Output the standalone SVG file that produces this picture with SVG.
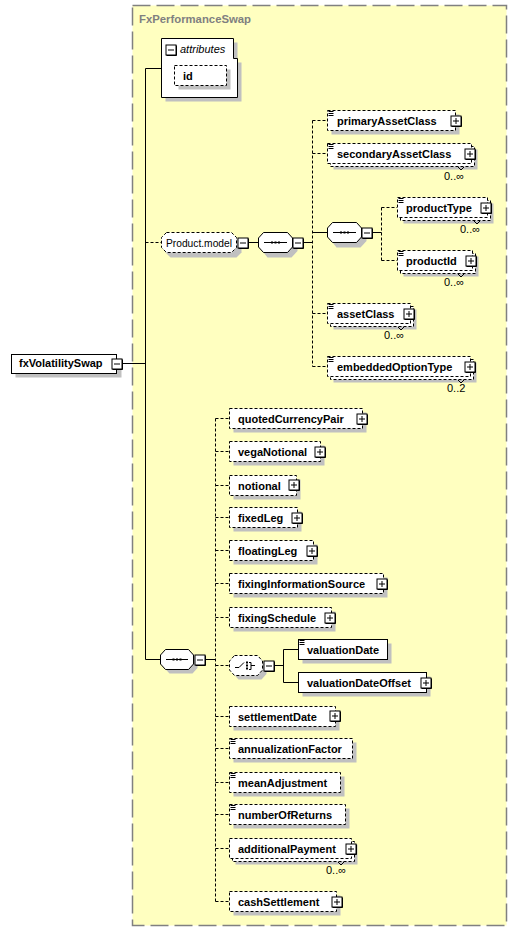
<svg xmlns="http://www.w3.org/2000/svg" width="517" height="932" viewBox="0 0 517 932">
<style>
.t{font-family:"Liberation Sans",Arial,sans-serif;font-size:11px;font-weight:bold;fill:#000}
.n{font-family:"Liberation Sans",Arial,sans-serif;font-size:11px;fill:#000}
.i{font-family:"Liberation Sans",Arial,sans-serif;font-size:11px;font-style:italic;fill:#000}
.ttl{font-family:"Liberation Sans",Arial,sans-serif;font-size:11px;font-weight:bold;fill:#808080}
.opt{fill:#fff;stroke:#000;stroke-width:1;stroke-dasharray:3,2}
.req{fill:#fff;stroke:#000;stroke-width:1}
.sh{fill:#c0c0c0}
.ln{stroke:#000;stroke-width:1;fill:none}
.dl{stroke:#000;stroke-width:1;fill:none;stroke-dasharray:3,2}
.bx{fill:#fff;stroke:#000;stroke-width:1}
</style>
<defs>
<g id="plus"><rect x="-5" y="-5" width="10" height="10" class="bx"/><path d="M-3,0H3M0,-3V3" class="ln"/><path d="M-4.5,5.5H5.5V-4.5" class="ln"/></g>
<g id="minus"><rect x="-5" y="-5" width="10" height="10" class="bx"/><path d="M-3,0H3" class="ln"/><path d="M-4.5,5.5H5.5V-4.5" class="ln"/></g>
<g id="ico"><path d="M1.5,1.5H6.5M1.5,3.5H6.5M1.5,5.5H6.5" class="ln"/></g>
</defs>
<rect x="132.5" y="5.5" width="374" height="920" fill="#ffffc0" stroke="#808080" stroke-width="1.5" stroke-dasharray="18,6"/>
<text x="139" y="23" class="ttl" textLength="112" lengthAdjust="spacingAndGlyphs">FxPerformanceSwap</text>

<g id="connectors">
<path d="M122,363.5H145.5M145.5,68.5V659.5M145.5,68.5H161M145.5,659.5H161" class="ln"/>
<path d="M145.5,242.5H161" class="dl"/>
<path d="M248,242.5H258M302.5,242.5H312.5M312.5,232.5H327M372,232.5H381.5" class="ln"/>
<path d="M312.5,120.5V366.5M312.5,120.5H327M312.5,153.5H327M312.5,313.5H327M312.5,366.5H327" class="dl"/>
<path d="M381.5,207.5V260.5M381.5,207.5H397M381.5,260.5H397" class="dl"/>
<path d="M205,659.5H215.5" class="ln"/>
<path d="M215.5,418.5V901.5M215.5,418.5H229M215.5,451.5H229M215.5,485.5H229M215.5,517.5H229M215.5,550.5H229M215.5,583.5H229M215.5,617.5H229M215.5,665.5H229M215.5,716.5H229M215.5,748.5H229M215.5,782.5H229M215.5,814.5H229M215.5,848.5H229M215.5,901.5H229" class="dl"/>
<path d="M274,665.5H283.5M283.5,649.5V682.5M283.5,649.5H298M283.5,682.5H298" class="ln"/>
</g>

<g id="fxVolatilitySwap">
<rect x="15.5" y="358.5" width="106" height="19" class="sh"/>
<rect x="11.5" y="354.5" width="105" height="19" class="req"/>
<text x="19" y="367" class="t">fxVolatilitySwap</text>
<use href="#minus" x="117" y="364"/>
</g>

<g id="attributes">
<path d="M165.5,42.5H237.5V62.5H241.5V101.5H165.5Z" class="sh"/>
<path d="M161.5,38.5H233.5V58.5H237.5V97.5H161.5Z" class="req"/>
<use href="#minus" x="171" y="50"/>
<text x="180" y="53" class="i">attributes</text>
<rect x="178.5" y="69.5" width="52" height="20" class="sh"/>
<rect x="174.5" y="65.5" width="52" height="20" class="opt"/>
<text x="183" y="80" class="t">id</text>
</g>

<g id="Product.model">
<path d="M170.5,237.5H236.5L241.5,242.5V252.5L236.5,257.5H170.5L165.5,252.5V242.5Z" class="sh"/>
<path d="M166.5,232.5H231.5L236.5,237.5V247.5L231.5,252.5H166.5L161.5,247.5V237.5Z" class="opt"/>
<text x="166" y="246.5" class="n" textLength="66" lengthAdjust="spacingAndGlyphs">Product.model</text>
<use href="#minus" x="243" y="243"/>
</g>

<g id="seq1">
<path d="M267.5,237.5H291.5L297.5,243V251L291.5,257.5H267.5L262.5,251V243Z" class="sh"/>
<path d="M263.5,232.5H287.5L292.5,238V247L287.5,252.5H263.5L258.5,247V238Z" class="req"/>
<path d="M264,242.5H287" class="ln"/><path d="M271,241.5h2v2h-2zM274.5,241.5h2v2h-2zM278,241.5h2v2h-2z" fill="#000"/>
<use href="#minus" x="298" y="243"/>
</g>

<g id="primaryAssetClass">
<rect x="331.5" y="114.5" width="128" height="20" class="sh"/>
<rect x="327.5" y="110.5" width="128" height="20" class="opt"/>
<use href="#ico" x="327" y="110"/>
<text x="337" y="125" class="t">primaryAssetClass</text>
<use href="#plus" x="456" y="121"/>
</g>

<g id="secondaryAssetClass">
<rect x="333.5" y="149.5" width="144" height="20" class="sh"/>
<rect x="330.5" y="146.5" width="144" height="20" class="opt"/>
<rect x="327.5" y="143.5" width="144" height="20" class="opt"/>
<use href="#ico" x="327" y="143"/>
<text x="337" y="158" class="t">secondaryAssetClass</text>
<use href="#plus" x="470" y="154"/>
<path d="M458,167L461,170L464,167" class="ln"/>
<text x="444" y="180" class="n">0..∞</text>
</g>

<g id="seq2">
<path d="M336.5,227.5H360.5L366.5,233V241L360.5,247.5H336.5L331.5,241V233Z" class="sh"/>
<path d="M332.5,222.5H356.5L361.5,228V237L356.5,242.5H332.5L327.5,237V228Z" class="req"/>
<path d="M333,232.5H356" class="ln"/><path d="M340,231.5h2v2h-2zM343.5,231.5h2v2h-2zM347,231.5h2v2h-2z" fill="#000"/>
<use href="#minus" x="367" y="233"/>
</g>

<g id="productType">
<rect x="403.5" y="203.5" width="90" height="20" class="sh"/>
<rect x="400.5" y="200.5" width="90" height="20" class="opt"/>
<rect x="397.5" y="197.5" width="90" height="20" class="opt"/>
<use href="#ico" x="397" y="197"/>
<text x="406" y="212" class="t">productType</text>
<use href="#plus" x="486" y="208"/>
<path d="M474,221L477,224L480,221" class="ln"/>
<text x="460" y="233" class="n">0..∞</text>
</g>

<g id="productId">
<rect x="403.5" y="256.5" width="75" height="20" class="sh"/>
<rect x="400.5" y="253.5" width="75" height="20" class="opt"/>
<rect x="397.5" y="250.5" width="75" height="20" class="opt"/>
<use href="#ico" x="397" y="250"/>
<text x="406" y="265" class="t">productId</text>
<use href="#plus" x="471" y="261"/>
<path d="M458,274L461,277L464,274" class="ln"/>
<text x="444" y="286" class="n">0..∞</text>
</g>

<g id="assetClass">
<rect x="333.5" y="309.5" width="83" height="20" class="sh"/>
<rect x="330.5" y="306.5" width="83" height="20" class="opt"/>
<rect x="327.5" y="303.5" width="83" height="20" class="opt"/>
<use href="#ico" x="327" y="303"/>
<text x="337" y="318" class="t">assetClass</text>
<use href="#plus" x="409" y="314"/>
<path d="M398,327L401,330L404,327" class="ln"/>
<text x="384" y="339" class="n">0..∞</text>
</g>

<g id="embeddedOptionType">
<rect x="333.5" y="362.5" width="143" height="20" class="sh"/>
<rect x="330.5" y="359.5" width="143" height="20" class="opt"/>
<rect x="327.5" y="356.5" width="143" height="20" class="opt"/>
<use href="#ico" x="327" y="356"/>
<text x="337" y="371" class="t">embeddedOptionType</text>
<use href="#plus" x="470" y="367"/>
<path d="M458,380L461,383L464,380" class="ln"/>
<text x="447" y="392" class="n">0..2</text>
</g>

<g id="seq3">
<path d="M169.5,653.5H192.5L197.5,659V668L192.5,673.5H169.5L164.5,668V659Z" class="sh"/>
<path d="M165.5,649.5H188.5L193.5,655V664L188.5,669.5H165.5L160.5,664V655Z" class="req"/>
<path d="M166,659.5H188" class="ln"/><path d="M172.5,658.5h2v2h-2zM176,658.5h2v2h-2zM179.5,658.5h2v2h-2z" fill="#000"/>
<use href="#minus" x="200" y="660"/>
</g>

<g id="quotedCurrencyPair">
<rect x="233.5" y="412.5" width="133" height="20" class="sh"/>
<rect x="229.5" y="408.5" width="133" height="20" class="opt"/>
<text x="238" y="423" class="t">quotedCurrencyPair</text>
<use href="#plus" x="362" y="419"/>
</g>
<g id="vegaNotional">
<rect x="233.5" y="445.5" width="91" height="20" class="sh"/>
<rect x="229.5" y="441.5" width="91" height="20" class="opt"/>
<text x="238" y="456" class="t">vegaNotional</text>
<use href="#plus" x="320" y="452"/>
</g>
<g id="notional">
<rect x="233.5" y="479.5" width="67" height="20" class="sh"/>
<rect x="229.5" y="475.5" width="67" height="20" class="opt"/>
<text x="238" y="490" class="t">notional</text>
<use href="#plus" x="294" y="485"/>
</g>
<g id="fixedLeg">
<rect x="233.5" y="511.5" width="68" height="20" class="sh"/>
<rect x="229.5" y="507.5" width="68" height="20" class="opt"/>
<text x="238" y="522" class="t">fixedLeg</text>
<use href="#plus" x="297" y="518"/>
</g>
<g id="floatingLeg">
<rect x="233.5" y="544.5" width="84" height="20" class="sh"/>
<rect x="229.5" y="540.5" width="84" height="20" class="opt"/>
<text x="238" y="555" class="t">floatingLeg</text>
<use href="#plus" x="312" y="551"/>
</g>
<g id="fixingInformationSource">
<rect x="233.5" y="577.5" width="154" height="20" class="sh"/>
<rect x="229.5" y="573.5" width="154" height="20" class="opt"/>
<text x="238" y="588" class="t">fixingInformationSource</text>
<use href="#plus" x="382" y="584"/>
</g>
<g id="fixingSchedule">
<rect x="233.5" y="611.5" width="102" height="20" class="sh"/>
<rect x="229.5" y="607.5" width="102" height="20" class="opt"/>
<text x="238" y="622" class="t">fixingSchedule</text>
<use href="#plus" x="330" y="618"/>
</g>

<g id="choice">
<path d="M238.5,659.5H261.5L266.5,665V674L261.5,679.5H238.5L233.5,674V665Z" class="sh"/>
<path d="M234.5,655.5H257.5L262.5,661V670L257.5,675.5H234.5L229.5,670V661Z" class="opt"/>
<path d="M235,667.5H239L244,662.5M249,662.5H251V669.5H249M251,665.5H255" class="ln"/>
<path d="M246,661.5h2v2h-2zM246,664.5h2v2h-2zM246,667.5h2v2h-2z" fill="#000"/>
<use href="#minus" x="269" y="666"/>
</g>

<g id="valuationDate">
<rect x="302.5" y="643.5" width="89" height="20" class="sh"/>
<rect x="298.5" y="639.5" width="89" height="20" class="req"/>
<use href="#ico" x="298" y="639"/>
<text x="307" y="654" class="t">valuationDate</text>
</g>
<g id="valuationDateOffset">
<rect x="302.5" y="676.5" width="128" height="20" class="sh"/>
<rect x="298.5" y="672.5" width="128" height="20" class="req"/>
<text x="307" y="687" class="t">valuationDateOffset</text>
<use href="#plus" x="426" y="683"/>
</g>

<g id="settlementDate">
<rect x="233.5" y="710.5" width="106" height="20" class="sh"/>
<rect x="229.5" y="706.5" width="106" height="20" class="opt"/>
<text x="238" y="721" class="t">settlementDate</text>
<use href="#plus" x="335" y="716"/>
</g>
<g id="annualizationFactor">
<rect x="233.5" y="742.5" width="123" height="20" class="sh"/>
<rect x="229.5" y="738.5" width="123" height="20" class="opt"/>
<use href="#ico" x="229" y="738"/>
<text x="238" y="753" class="t">annualizationFactor</text>
</g>
<g id="meanAdjustment">
<rect x="233.5" y="776.5" width="111" height="20" class="sh"/>
<rect x="229.5" y="772.5" width="111" height="20" class="opt"/>
<use href="#ico" x="229" y="772"/>
<text x="238" y="787" class="t">meanAdjustment</text>
</g>
<g id="numberOfReturns">
<rect x="233.5" y="808.5" width="116" height="20" class="sh"/>
<rect x="229.5" y="804.5" width="116" height="20" class="opt"/>
<use href="#ico" x="229" y="804"/>
<text x="238" y="819" class="t">numberOfReturns</text>
</g>
<g id="additionalPayment">
<rect x="235.5" y="844.5" width="122" height="20" class="sh"/>
<rect x="232.5" y="841.5" width="122" height="20" class="opt"/>
<rect x="229.5" y="838.5" width="122" height="20" class="opt"/>
<text x="238" y="853" class="t">additionalPayment</text>
<use href="#plus" x="351" y="849"/>
<path d="M338,862L341,865L344,862" class="ln"/>
<text x="326" y="874" class="n">0..∞</text>
</g>
<g id="cashSettlement">
<rect x="233.5" y="895.5" width="107" height="20" class="sh"/>
<rect x="229.5" y="891.5" width="107" height="20" class="opt"/>
<text x="238" y="906" class="t">cashSettlement</text>
<use href="#plus" x="337" y="902"/>
</g>
</svg>
